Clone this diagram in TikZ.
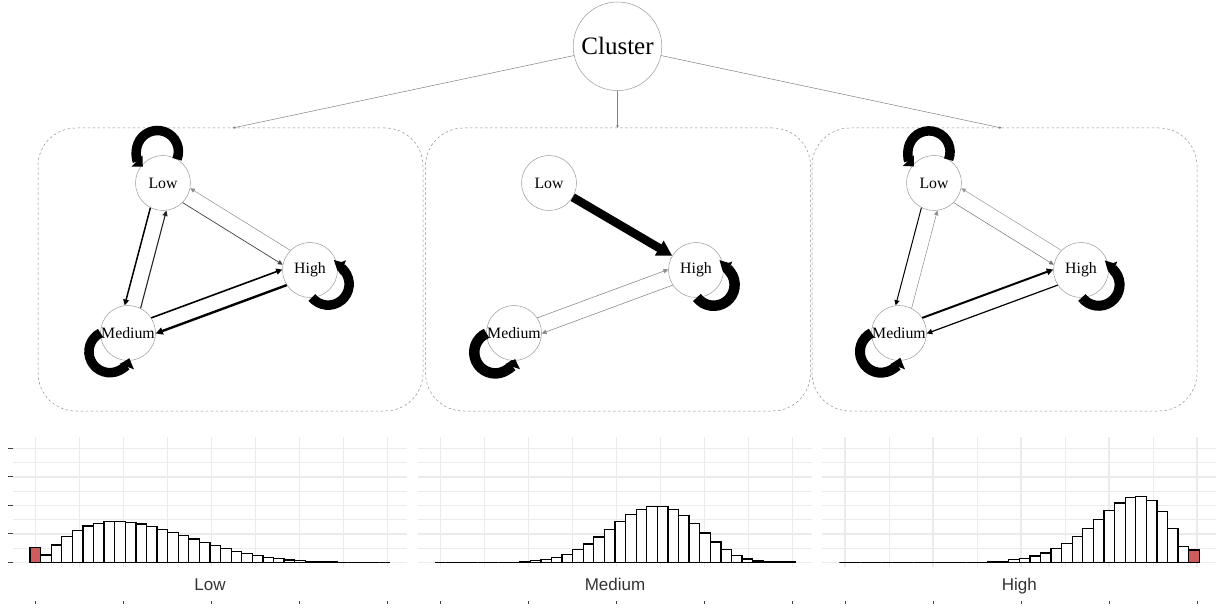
\documentclass[tikz,border=0pt]{standalone}
\usepackage{fontspec}
\setmainfont{Liberation Serif}
\newfontfamily\axisfont{Liberation Sans}
\usetikzlibrary{arrows.meta}
\definecolor{barred}{HTML}{CD5C5C}
\definecolor{gridc}{HTML}{EBEBEB}
\tikzset{
  st/.style={circle, draw=black!40, line width=0.5pt, fill=white, minimum size=55pt, inner sep=0pt, font=\fontsize{15.8}{16}\selectfont},
  clusternode/.style={circle, draw=black!40, line width=0.5pt, fill=white, minimum size=88.6pt, inner sep=0pt, font=\fontsize{25}{26}\selectfont},
  panelbox/.style={draw=black!45, dash pattern=on 2.5pt off 2.5pt, line width=0.5pt, rounded corners=38pt, minimum width=385pt, minimum height=283pt, inner sep=0pt},
  clusterline/.style={draw=black!50, line width=0.5pt, -{Triangle[length=2.5pt,width=2.2pt,fill=black!75]}},
  tr/.style={-{Triangle[length=4pt 1.3,width=3.5pt 1.5]}},
  selfloop/.style={line width=9.5pt, -{Triangle[length=8pt,width=15pt]}},
  gridminor/.style={draw=gridc, line width=0.9pt},
  gridmajor/.style={draw=gridc, line width=1.5pt},
  tickst/.style={draw=black!75, line width=1pt},
  barst/.style={draw=black, line width=1.3pt, fill=white},
  axislabel/.style={font=\axisfont\fontsize{17}{18}\selectfont, text=black!80, inner sep=0pt, anchor=base}
}
% self loop: node, direction, distance of loop centre, loop radius, options
\newcommand{\selfloopat}[5]{%
  \pgfmathsetmacro{\la}{acos((#3*#3+#4*#4-27.5*27.5)/(2*#3*#4))}%
  \pgfmathsetmacro{\lsa}{#2-180+\la}%
  \pgfmathsetmacro{\lea}{#2+180-\la+4}%
  \draw[selfloop,#5] (#1.center) ++(#2:#3pt) ++(\lsa:#4pt) arc[start angle=\lsa, end angle=\lea, radius=#4pt];%
}
% edge: from, to, start anchor, end anchor, width, colour
\newcommand{\pedge}[6]{\draw[tr, line width=#5pt, draw=#6] (#1.#3) -- (#2.#4);}
\newcommand{\histgrid}[1]{%
  \foreach \y in {59.95,88.45,116.95,145.45} \draw[gridminor] ({#1-17.5},\y) -- ({#1+377},\y);
  \foreach \x in {49.7,137.7,225.7,313.7} \draw[gridminor] ({#1+\x},41.3) -- ({#1+\x},171.3);
  \foreach \y in {45.7,74.2,102.7,131.2,159.7} \draw[gridmajor] ({#1-17.5},\y) -- ({#1+377},\y);
  \foreach \x in {5.7,93.7,181.7,269.7,357.7} {\draw[gridmajor] ({#1+\x},41.3) -- ({#1+\x},171.3); \draw[tickst] ({#1+\x},4) -- ({#1+\x},7.5);}
}
\newcommand{\histbars}[2]{%
  \foreach \h [count=\k from 0] in {#2} {\draw[barst] ({#1+\k*10.588},45.7) rectangle ++(10.588,\h);}
}
\begin{document}
\begin{tikzpicture}[x=1pt,y=1pt]
\useasboundingbox (0,0) rectangle (1225,608);
% panels
\node[panelbox] (P1) at (230.5,338.5) {};
\node[panelbox] (P2) at (618,338.5) {};
\node[panelbox] (P3) at (1004.5,338.5) {};
\coordinate (T1) at (232.7,480);
\coordinate (T2) at (617.5,480);
\coordinate (T3) at (1001.7,480);
% cluster
\node[clusternode] (C) at (617.5,561.7) {Cluster};
\draw[clusterline] (C) -- (T1);
\draw[clusterline] (C) -- (T2);
\draw[clusterline] (C) -- (T3);
% states
\node[st] (L1) at (163,425) {\makebox[0pt]{Low}};
\node[st] (H1) at (310,338) {\makebox[0pt]{High}};
\node[st] (M1) at (128,275) {\makebox[0pt]{Medium}};
\node[st] (L2) at (549,425) {\makebox[0pt]{Low}};
\node[st] (H2) at (696,338) {\makebox[0pt]{High}};
\node[st] (M2) at (514,275) {\makebox[0pt]{Medium}};
\node[st] (L3) at (934,425) {\makebox[0pt]{Low}};
\node[st] (H3) at (1081,338) {\makebox[0pt]{High}};
\node[st] (M3) at (899,275) {\makebox[0pt]{Medium}};
% loops
\selfloopat{L1}{100}{32}{21}{}
\selfloopat{H1}{-38}{23}{21}{}
\selfloopat{M1}{226}{26}{21}{}
\selfloopat{H2}{-40}{23}{21}{line width=10.5pt}
\selfloopat{M2}{226}{27}{21}{line width=10.5pt}
\selfloopat{L3}{99}{31.5}{21}{}
\selfloopat{H3}{-40}{23}{21}{line width=10pt}
\selfloopat{M3}{226}{26}{21}{line width=10pt}
% panel 1 edges
\pedge{L1}{M1}{243}{97}{1.5}{black}
\pedge{M1}{L1}{63}{277}{1.1}{black!85}
\pedge{L1}{H1}{315}{169}{0.7}{black!75}
\pedge{H1}{L1}{135}{349}{0.5}{black!45}
\pedge{M1}{H1}{33}{179}{1.6}{black}
\pedge{H1}{M1}{213}{359}{2.4}{black}
% panel 2 edges
\pedge{L2}{H2}{329}{149}{8.5}{black}
\pedge{M2}{H2}{33}{179}{0.6}{black!45}
\pedge{H2}{M2}{213}{359}{0.6}{black!45}
% panel 3 edges
\pedge{L3}{M3}{243}{97}{1.0}{black}
\pedge{M3}{L3}{63}{277}{0.5}{black!45}
\pedge{L3}{H3}{315}{169}{0.5}{black!55}
\pedge{H3}{L3}{135}{349}{0.5}{black!40}
\pedge{M3}{H3}{33}{179}{2.0}{black}
\pedge{H3}{M3}{213}{359}{1.2}{black}
% histograms
\histgrid{30}
\histgrid{435}
\histgrid{839.3}
\foreach \y in {45.7,74.2,102.7,131.2,159.7} \draw[tickst] (8.3,\y) -- (12.7,\y);
\histbars{30}{14.7,7.3,17.3,25.7,32,36.3,39,40.7,41,40,38.3,35.7,33,29.7,26.7,23.3,19.7,16.7,13.7,11,8.7,6.7,5,3.7,2.3,1.7,1,0.5,0.3,0,0,0,0,0}
\draw[barst, fill=barred] (30,45.7) rectangle ++(10.588,14.7);
\histbars{435}{0,0,0,0,0,0,0,0,0.6,2,3,5,8,12.7,18.3,25.3,33,41,47.7,53,56,56,53,46.7,38.7,29.3,20.3,13,6.7,3.3,1.3,0.3,0.3,1}
\histbars{839.3}{0,0,0,0,0,0,0,0,0,0,0,0,0,0,0.3,0.5,2.7,4,6.3,9.3,13.7,19,26,34,43,51.7,59.3,64.7,65.7,61.7,50.7,34,15.7,12.3}
\draw[barst, fill=barred] ({839.3+33*10.588},45.7) rectangle ++(10.588,12.3);
\node[axislabel] (hl1) at (210,17.7) {Low};
\node[axislabel] (hl2) at (615,17.7) {Medium};
\node[axislabel] (hl3) at (1019.3,17.7) {High};
\end{tikzpicture}
\end{document}
